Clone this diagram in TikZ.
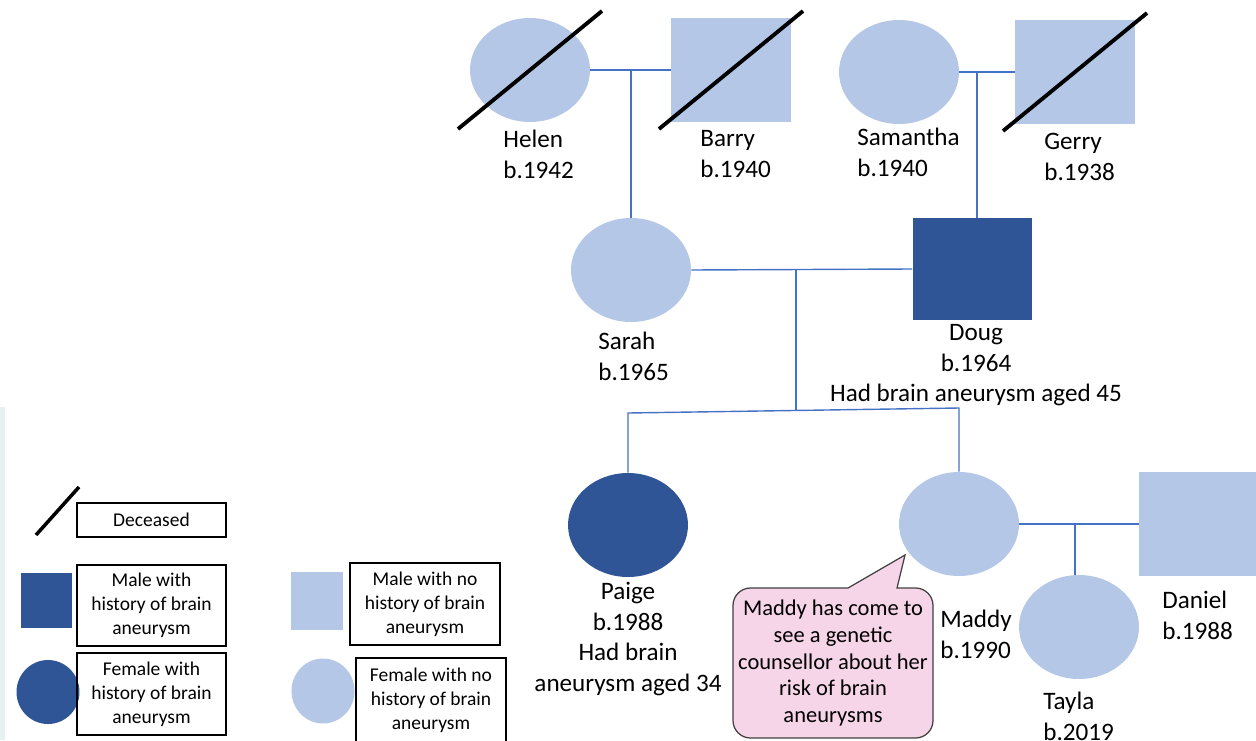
\documentclass[tikz,border=0pt]{standalone}
\usepackage{fontspec}
\setmainfont{Carlito}
\usetikzlibrary{shapes.geometric}
\definecolor{lightfill}{HTML}{B4C7E7}
\definecolor{darkfill}{HTML}{2F5597}
\definecolor{linkblue}{HTML}{4472C4}
\definecolor{notepink}{HTML}{F6D5E9}
\definecolor{notedraw}{HTML}{404040}
\definecolor{stripcol}{HTML}{E6F1F2}
\tikzset{
  person/.style={inner sep=0pt, minimum width=2.4cm, minimum height=2.08cm},
  female/.style={person, ellipse},
  male/.style={person, rectangle},
  affected/.style={fill=darkfill},
  unaffected/.style={fill=lightfill},
  link/.style={draw=linkblue, line width=0.8pt},
  deadline/.style={line width=2.2pt},
  namelbl/.style={inner sep=0pt, align=left, font=\fontsize{14.3}{17.4}\selectfont},
  keybox/.style={draw, line width=0.7pt, align=center, inner sep=0pt,
    minimum width=2.98cm, font=\fontsize{11.1}{13.6}\selectfont},
}
\newcommand{\deceased}[1]{\draw[deadline] (#1.center) ++(-72,59) -- ++(144,-118);}
\begin{document}
\begin{tikzpicture}[x=0.02cm, y=-0.02cm]
  \useasboundingbox (0,0) rectangle (1256,740);
  \clip (0,0) rectangle (1256,740);
  % strip at left edge
  \fill[stripcol] (0,407) rectangle (5,740);

  % Grandparents, mother side
  \node[female, unaffected] (Helen) at (530,70) {};
  \node[male, unaffected] (Barry) at (731,70) {};
  \draw[link] (Helen.east) -- (Barry.west);
  \deceased{Helen}
  \deceased{Barry}
  \node[namelbl, anchor=north west] (helenTxt) at (503,130) {Helen\\b.1942};
  \node[namelbl, anchor=north west] (barryTxt) at (700,130) {Barry\\b.1940};

  % Grandparents, father side
  \node[female, unaffected] (Samantha) at (899,72) {};
  \node[male, unaffected] (Gerry) at (1075,72) {};
  \draw[link] (Samantha.east) -- (Gerry.west);
  \deceased{Gerry}
  \node[namelbl, anchor=north west] (samanthaTxt) at (857,128) {Samantha\\b.1940};
  \node[namelbl, anchor=north west] (gerryTxt) at (1044,133) {Gerry\\b.1938};

  % Parents
  \node[female, unaffected] (Sarah) at (631,270) {};
  \node[male, affected, minimum width=2.38cm, minimum height=2.04cm] (Doug) at (972,269) {};
  \draw[link] (Sarah.north) -- (Sarah.north |- Helen.east);
  \coordinate (gerryDrop) at (977,72);
  \draw[link] (gerryDrop) -- (gerryDrop |- Doug.north);
  \draw[link] (Sarah.east) -- (Doug.west);
  \node[namelbl, anchor=north west] (sarahTxt) at (598,332) {Sarah\\b.1965};
  \node[namelbl, anchor=north, align=center] (dougTxt) at (976,324)
    {Doug\\b.1964\\Had brain aneurysm aged 45};

  % Children
  \node[female, affected] (Paige) at (628,525) {};
  \node[female, unaffected] (Maddy) at (959,524) {};
  \coordinate (coupleDrop) at (796,269);
  \coordinate (sibMid) at (796,410);
  \coordinate (sibL) at (628,413);
  \coordinate (sibR) at (959,408);
  \draw[link] (coupleDrop) -- (sibMid);
  \draw[link] (Paige.north) -- (sibL) -- (sibR) -- (Maddy.north);
  \node[namelbl, anchor=north, align=center] (paigeTxt) at (628,582)
    {Paige\\b.1988\\Had brain\\aneurysm aged 34};
  \node[namelbl, anchor=north west] (maddyTxt) at (940,610) {Maddy\\b.1990};

  % Maddy and Daniel
  \node[male, unaffected] (Daniel) at (1199,524) {};
  \node[female, unaffected] (Tayla) at (1079,627) {};
  \draw[link] (Maddy.east) -- (Daniel.west);
  \coordinate (maddyDrop) at (1075,524);
  \draw[link] (maddyDrop) -- (maddyDrop |- Tayla.north);
  \node[namelbl, anchor=north west] (danielTxt) at (1162,591) {Daniel\\b.1988};
  \node[namelbl, anchor=north west] (taylaTxt) at (1043,692) {Tayla\\b.2019};

  % Speech bubble
  \draw[notedraw, fill=notepink, line width=0.7pt]
    (848,588) -- (905,555) -- (897,588) [rounded corners=0.35cm] -- (933,588)
    -- (933,738) -- (733,738) -- (733,588) [sharp corners] -- cycle;
  \node[align=center, inner sep=0pt, font=\fontsize{12.8}{15.3}\selectfont] (note) at (833,663)
    {Maddy has come to\\see a genetic\\counsellor about her\\risk of brain\\aneurysms};

  % Key
  \coordinate (keySlashA) at (36,535);
  \coordinate (keySlashB) at (79,487);
  \draw[line width=2pt] (keySlashA) -- (keySlashB);
  \node[keybox, minimum height=0.68cm] (keyDead) at (151.5,520) {Deceased};
  \node[rectangle, fill=darkfill, minimum width=1.02cm, minimum height=1.1cm] (keyM) at (46.5,600.5) {};
  \node[keybox, minimum height=1.62cm] (keyMtxt) at (151.5,605.5) {Male with\\history of brain\\aneurysm};
  \node[ellipse, fill=darkfill, minimum width=1.26cm, minimum height=1.28cm, inner sep=0pt] (keyF) at (48,692) {};
  \node[keybox, minimum height=1.64cm] (keyFtxt) at (151.5,694) {Female with\\history of brain\\aneurysm};
  \node[rectangle, fill=lightfill, minimum width=1.04cm, minimum height=1.16cm] (keyMno) at (317,601) {};
  \node[keybox, minimum width=3cm, minimum height=1.64cm] (keyMnotxt) at (425,604) {Male with no\\history of brain\\aneurysm};
  \node[ellipse, fill=lightfill, minimum width=1.26cm, minimum height=1.3cm, inner sep=0pt] (keyFno) at (323,691) {};
  \node[keybox, minimum width=3cm, minimum height=1.68cm] (keyFnotxt) at (431,700) {Female with no\\history of brain\\aneurysm};
\end{tikzpicture}
\end{document}
